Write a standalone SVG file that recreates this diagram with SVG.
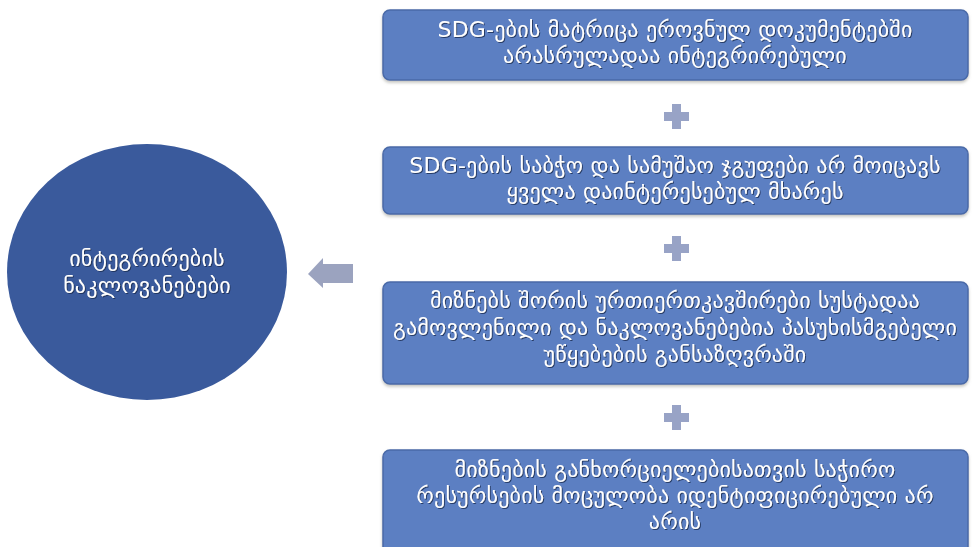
<svg xmlns="http://www.w3.org/2000/svg" width="975" height="547" viewBox="0 0 975 547">
<defs>
<filter id="ts" x="-5%" y="-20%" width="110%" height="140%">
<feDropShadow dx="1" dy="1" stdDeviation="0.6" flood-color="#1a2a50" flood-opacity="0.8"/>
</filter>
<filter id="bs" x="-5%" y="-10%" width="110%" height="130%">
<feDropShadow dx="0" dy="2" stdDeviation="1.5" flood-color="#8a8a80" flood-opacity="0.5"/>
</filter>
</defs>
<style>
.box{fill:#5b7fc2;stroke:#4a6aa8;stroke-width:1.5;filter:url(#bs)}
.t{font-family:"DejaVu Sans","Noto Sans",sans-serif;font-size:22px;letter-spacing:0.2px;fill:#ffffff;text-anchor:middle;filter:url(#ts)}
.plus{fill:#98a3c6}
</style>
<rect width="975" height="547" fill="#ffffff"/>
<g id="circle">
<ellipse cx="147" cy="272" rx="140" ry="128" fill="#3a5a9c"/>
<text class="t" x="147" y="266">ინტეგრირების</text>
<text class="t" x="147" y="293">ნაკლოვანებები</text>
</g>
<g id="box1">
<rect class="box" x="383" y="10" width="585" height="70" rx="7"/>
<text class="t" x="675" y="37">SDG-ების მატრიცა ეროვნულ დოკუმენტებში</text>
<text class="t" x="675" y="63">არასრულადაა ინტეგრირებული</text>
</g>
<g id="box2">
<rect class="box" x="383" y="147" width="585" height="67" rx="7"/>
<text class="t" x="675" y="173">SDG-ების საბჭო და სამუშაო ჯგუფები არ მოიცავს</text>
<text class="t" x="675" y="199">ყველა დაინტერესებულ მხარეს</text>
</g>
<g id="box3">
<rect class="box" x="383" y="282" width="585" height="102" rx="7"/>
<text class="t" x="675" y="308">მიზნებს შორის ურთიერთკავშირები სუსტადაა</text>
<text class="t" x="675" y="335">გამოვლენილი და ნაკლოვანებებია პასუხისმგებელი</text>
<text class="t" x="675" y="362">უწყებების განსაზღვრაში</text>
</g>
<g id="box4">
<rect class="box" x="383" y="450" width="585" height="104" rx="7"/>
<text class="t" x="675" y="477">მიზნების განხორციელებისათვის საჭირო</text>
<text class="t" x="675" y="503">რესურსების მოცულობა იდენტიფიცირებული არ</text>
<text class="t" x="675" y="529">არის</text>
</g>
<g id="connectors">
<path class="plus" d="M672 104h9v8h8v9h-8v8h-9v-8h-8v-9h8z"/>
<path class="plus" d="M672 236h9v8h8v9h-8v8h-9v-8h-8v-9h8z"/>
<path class="plus" d="M672 405h9v8h8v9h-8v8h-9v-8h-8v-9h8z"/>
<path fill="#9ba3bf" d="M308 274 L323 258 L323 264 L353 264 L353 283 L323 283 L323 288 Z"/>
</g>
</svg>
